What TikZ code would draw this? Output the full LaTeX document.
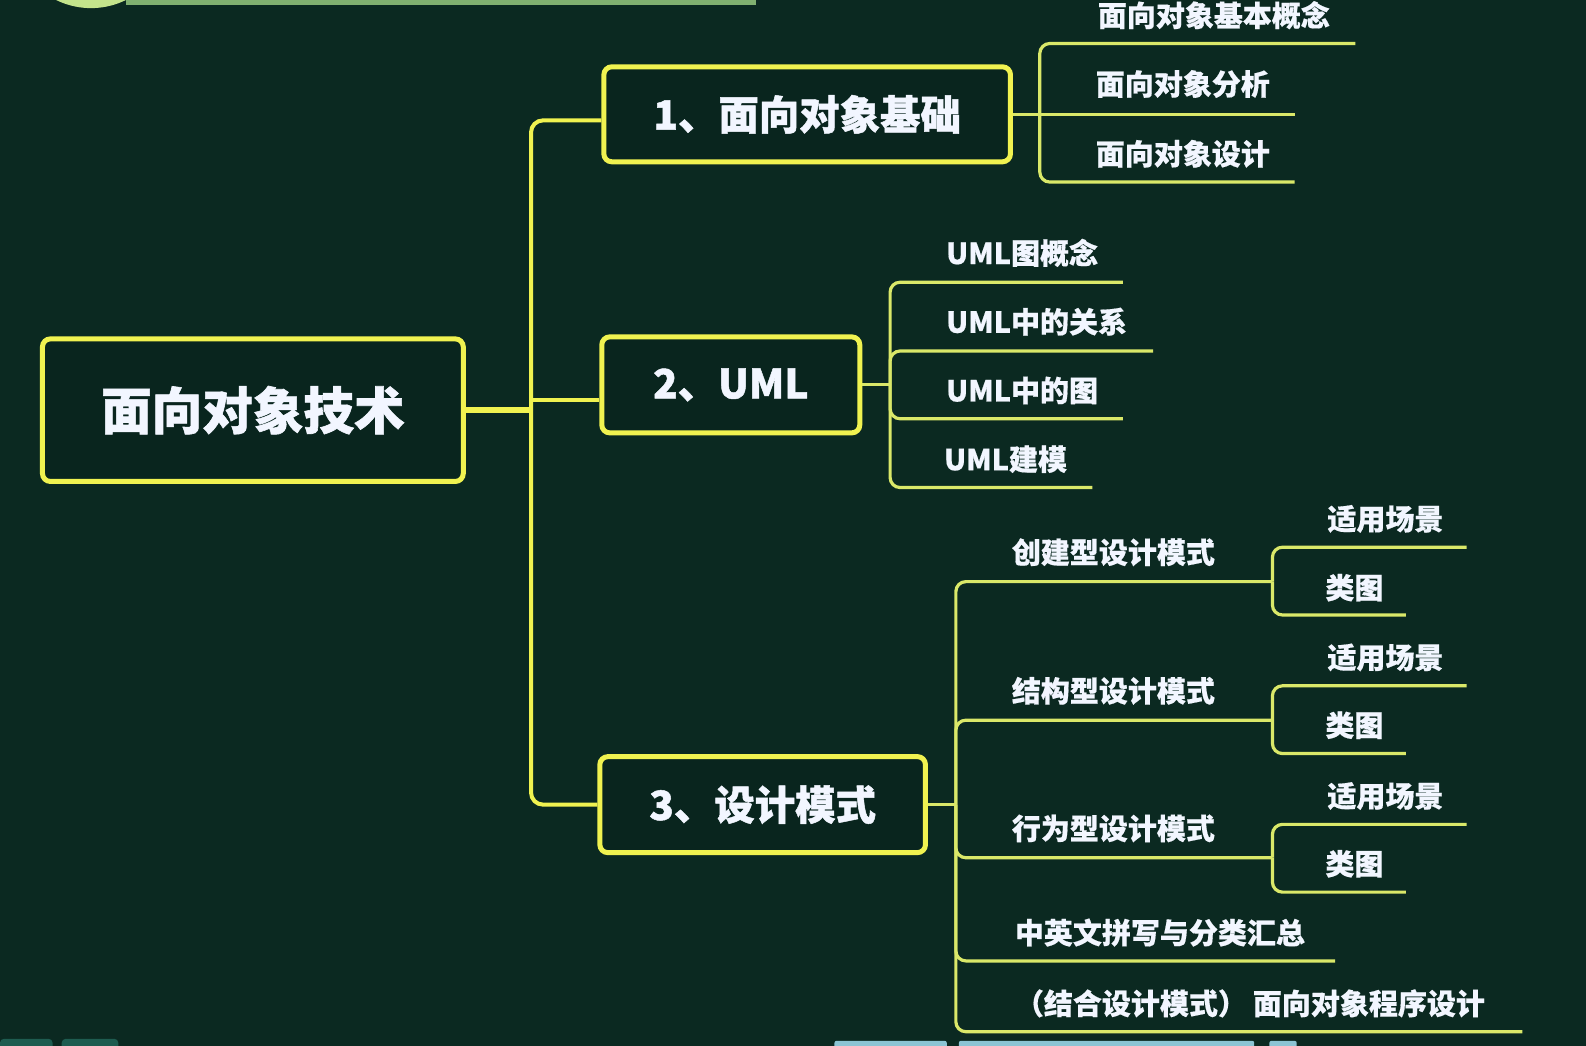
\documentclass[tikz,border=0pt]{standalone}
\usepackage{fontspec}
\setmainfont{Noto Sans CJK SC}
\newfontfamily\heavyfont{Noto Sans CJK SC}[BoldFeatures={FakeBold=1.2}]
\newfontfamily\leaffont{Noto Sans CJK SC}[BoldFeatures={FakeBold=0.5}]
\usetikzlibrary{calc}
\definecolor{bg}{RGB}{11,41,33}
\definecolor{boxfill}{RGB}{9,37,30}
\definecolor{boxy}{RGB}{240,242,80}
\definecolor{leafc}{RGB}{218,232,105}
\definecolor{txt}{RGB}{242,246,255}
\definecolor{topc}{RGB}{196,228,140}
\definecolor{topline}{RGB}{128,176,112}
\definecolor{tealdark}{RGB}{30,92,80}
\definecolor{teallight}{RGB}{140,196,212}
\begin{document}
\begin{tikzpicture}[x=0.5057pt,y=-0.5057pt,
  mainbox/.style={draw=boxy, line width=2.5pt, rounded corners=4pt, fill=boxfill,
    text=txt, inner sep=0pt, font=\heavyfont\bfseries\fontsize{20.2pt}{24pt}\selectfont},
  rootbox/.style={mainbox, font=\heavyfont\bfseries\fontsize{25.3pt}{30pt}\selectfont},
  leaftext/.style={anchor=west, inner sep=0pt, text=txt,
    font=\leaffont\bfseries\fontsize{14.5pt}{17pt}\selectfont},
  leafline/.style={draw=leafc, line width=1.6pt, rounded corners=5pt},
  trunkline/.style={draw=boxy, line width=2pt, rounded corners=6pt}]
\clip (0,0) rectangle (1568,1034);
\useasboundingbox (0,0) rectangle (1568,1034);
\fill[bg] (0,0) rectangle (1568,1034);
% fragments at the edges
\fill[topc] (90,-70) circle (78);
\draw[topline, line width=2.5pt] (125,2) -- (747,2);
\fill[tealdark, rounded corners=2pt] (0,1027) rectangle (52,1040);
\fill[tealdark, rounded corners=2pt] (61,1027) rectangle (117,1040);
\fill[teallight, rounded corners=1pt] (825,1029) rectangle (936,1040);
\fill[teallight, rounded corners=1pt] (948,1029) rectangle (1240,1040);
\fill[teallight, rounded corners=1pt] (1255,1029) rectangle (1282,1040);

% main boxes
\node[rootbox, minimum width=210.4pt, minimum height=71.3pt] (root) at (250,405.5) {面向对象技术};
\node[mainbox, minimum width=203.3pt, minimum height=47.5pt] (b1) at (798,113) {1、面向对象基础};
\node[mainbox, minimum width=129pt, minimum height=48pt] (b2) at (722.5,380.5) {2、UML};
\node[mainbox, minimum width=162.8pt, minimum height=48pt] (b3) at (754,795.5) {3、设计模式};

% main trunk
\coordinate (T) at (525,405.5);
\draw[boxy, line width=3pt] (root.east) -- (T);
\draw[trunkline] (T) |- (b1.west |- 0,119);
\draw[trunkline] (T |- 0,395) -- (b2.west |- 0,395);
\draw[trunkline] (T) |- (b3.west);

% group 1
\coordinate (J1) at (1028,113);
\coordinate (e11) at (1340,43);
\coordinate (e12) at (1280,113);
\coordinate (e13) at (1280,180);
\draw[leafline] (J1) |- (e11);
\draw[leafline] (b1.east) -- (e12);
\draw[leafline] (J1) |- (e13);
\node[leaftext] (t11) at (1085,15) {面向对象基本概念};
\node[leaftext] (t12) at (1083,83) {面向对象分析};
\node[leaftext] (t13) at (1083,152) {面向对象设计};

% group 2
\coordinate (J2) at (880,380.5);
\coordinate (e21) at (1110,279);
\coordinate (e22) at (1140,347);
\coordinate (e23) at (1110,414);
\coordinate (e24) at (1080,482);
\draw[leafline] (b2.east) -- (J2);
\draw[leafline] (J2) |- (e21);
\draw[leafline] (J2) |- (e22);
\draw[leafline] (J2) |- (e23);
\draw[leafline] (J2) |- (e24);
\node[leaftext] (t21) at (935,250) {UML图概念};
\node[leaftext] (t22) at (935,318) {UML中的关系};
\node[leaftext] (t23) at (935,386) {UML中的图};
\node[leaftext] (t24) at (933,454) {UML建模};

% group 3
\coordinate (J3) at (945,795.5);
\coordinate (K1) at (1258,575);
\coordinate (K2) at (1258,712);
\coordinate (K3) at (1258,848);
\coordinate (e34) at (1320,950);
\coordinate (e35) at (1505,1020);
\draw[leafline] (b3.east) -- (J3);
\draw[leafline] (J3) |- (K1);
\draw[leafline] (J3) |- (K2);
\draw[leafline] (J3) |- (K3);
\draw[leafline] (J3) |- (e34);
\draw[leafline] (J3) |- (e35);
\node[leaftext] (t31) at (1000,546) {创建型设计模式};
\node[leaftext] (t32) at (1000,683) {结构型设计模式};
\node[leaftext] (t33) at (1000,819) {行为型设计模式};
\node[leaftext] (t34) at (1003,922) {中英文拼写与分类汇总};
\node[leaftext] (t35) at (1003,992) {（结合设计模式）\hspace{3pt}面向对象程序设计};

% sub groups
\coordinate (f11) at (1450,541);
\coordinate (f12) at (1390,608);
\coordinate (f21) at (1450,678);
\coordinate (f22) at (1390,745);
\coordinate (f31) at (1450,815);
\coordinate (f32) at (1390,882);
\draw[leafline] (K1) |- (f11);
\draw[leafline] (K1) |- (f12);
\draw[leafline] (K2) |- (f21);
\draw[leafline] (K2) |- (f22);
\draw[leafline] (K3) |- (f31);
\draw[leafline] (K3) |- (f32);
\node[leaftext] (s11) at (1312,513) {适用场景};
\node[leaftext] (s12) at (1310,581) {类图};
\node[leaftext] (s21) at (1312,650) {适用场景};
\node[leaftext] (s22) at (1310,717) {类图};
\node[leaftext] (s31) at (1312,787) {适用场景};
\node[leaftext] (s32) at (1310,854) {类图};
\end{tikzpicture}
\end{document}
